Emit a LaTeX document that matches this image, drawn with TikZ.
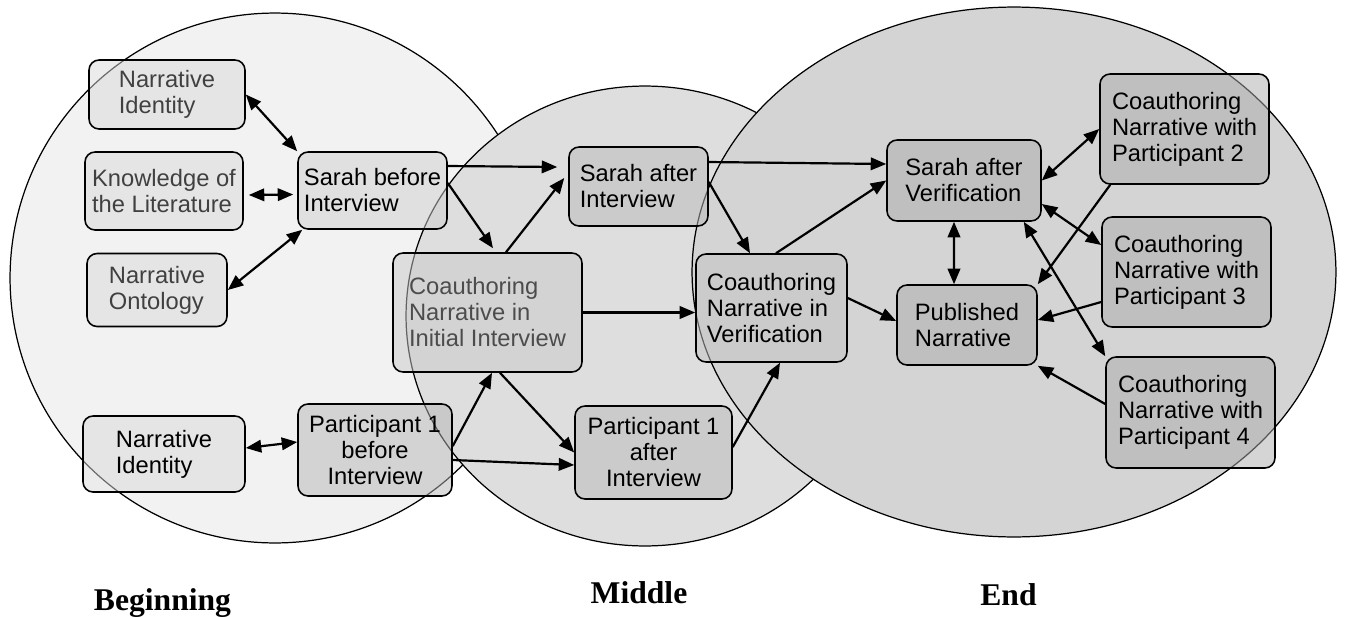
\documentclass[tikz,border=0pt]{standalone}
\usepackage{fontspec}
\setmainfont{Liberation Sans}
\newfontfamily\stagefont{Liberation Serif}
\usetikzlibrary{arrows.meta}
\begin{document}
\begin{tikzpicture}[x=0.02cm, y=-0.02cm,
        phase/.style={draw=black, line width=0.7pt},
        box/.style 2 args={draw=black, line width=0.9pt, rounded corners=0.2cm, fill opacity=0.5, text opacity=1,
            inner sep=0pt, align=left, minimum width=#1cm, minimum height=#2cm, font=\fontsize{13.5}{14.8}\selectfont},
        arr/.style={line width=1.25pt, -{Triangle[length=0.31cm, width=0.25cm]}},
        dbl/.style={line width=1.25pt, {Triangle[length=0.31cm, width=0.25cm]}-{Triangle[length=0.31cm, width=0.25cm]}},
        stage/.style={font=\stagefont\bfseries\fontsize{18}{20}\selectfont, anchor=base}]
    \useasboundingbox (0,0) rectangle (1347,616);
    \draw[phase, fill=black!5] (275,278) ellipse [x radius=5.3cm, y radius=5.3cm];
    \draw[phase, fill=black!13] (645,316) ellipse [x radius=4.78cm, y radius=4.6cm];
    \draw[phase, fill=black!17] (1014,272) ellipse [x radius=6.44cm, y radius=5.3cm];

    \node[box={3.12}{1.38}, fill=black!15, text=black!75] (ni1) at (167,94.5) {Narrative\\Identity};
    \node[box={3.16}{1.56}, fill=black!15, text=black!75] (kl) at (164,191) {Knowledge of\\the Literature};
    \node[box={2.80}{1.46}, fill=black!15, text=black!75] (no) at (157,290) {Narrative\\Ontology};
    \node[box={2.98}{1.54}, fill=black!19] (sbi) at (372.5,190.5) {Sarah before\\Interview};
    \node[box={3.24}{1.52}, fill=black!15] (ni2) at (164,454) {Narrative\\Identity};
    \node[box={3.08}{1.84}, fill=black!29, align=center] (pbi) at (375,450) {Participant 1\\before\\Interview};
    \node[box={3.78}{2.38}, fill=black!21, text=black!70] (cnii) at (487.5,312.5) {Coauthoring\\Narrative in\\Initial Interview};
    \node[box={2.78}{1.58}, fill=black!27] (sai) at (638.5,186.5) {Sarah after\\Interview};
    \node[box={3.14}{1.86}, fill=black!27, align=center] (pai) at (653.5,452.5) {Participant 1\\after\\Interview};
    \node[box={3.02}{2.16}, fill=black!23] (cnv) at (771.5,308) {Coauthoring\\Narrative in\\Verification};
    \node[box={3.08}{1.62}, fill=black!33] (sav) at (964,180.5) {Sarah after\\Verification};
    \node[box={2.80}{1.60}, fill=black!33] (pn) at (967,325) {Published\\Narrative};
    \node[box={3.38}{2.20}, fill=black!33] (cp2) at (1184.5,129) {Coauthoring\\Narrative with\\Participant 2};
    \node[box={3.38}{2.20}, fill=black!33] (cp3) at (1186.5,272) {Coauthoring\\Narrative with\\Participant 3};
    \node[box={3.38}{2.22}, fill=black!33] (cp4) at (1190.5,412.5) {Coauthoring\\Narrative with\\Participant 4};

    \draw[dbl] (ni1.east) -- (sbi.north west);
    \draw[dbl] ([xshift=0.1cm,yshift=-0.08cm]kl.east) -- ([xshift=-0.08cm,yshift=-0.08cm]sbi.west);
    \draw[dbl] (no.east) -- ([xshift=0.1cm]sbi.south west);
    \draw[dbl] ([yshift=0.12cm]ni2.east) -- ([yshift=0.16cm]pbi.west);
    \draw[arr] ([yshift=0.49cm]sbi.east) -- ([xshift=-0.22cm,yshift=0.39cm]sai.west);
    \draw[arr] ([yshift=0.15cm]sbi.east) -- ([xshift=0.11cm,yshift=0.08cm]cnii.north);
    \draw[arr] ([xshift=0.37cm]cnii.north) -- ([xshift=-0.08cm,yshift=0.17cm]sai.west);
    \draw[arr] ([yshift=0.08cm]pbi.east) -- ([xshift=0.09cm]cnii.south);
    \draw[arr] ([yshift=-0.2cm]pbi.east) -- ([yshift=-0.25cm]pai.west);
    \draw[arr] ([xshift=0.25cm]cnii.south) -- (pai.west);
    \draw[arr] (cnii.east) -- (cnii.east -| cnv.west);
    \draw[arr] ([yshift=0.09cm]sai.east) -- ([xshift=-0.43cm]cnv.north);
    \draw[arr] ([yshift=0.49cm]sai.east) -- ([yshift=0.33cm]sav.west);
    \draw[arr] ([xshift=0.09cm]cnv.north) -- (sav.west);
    \draw[arr] ([yshift=0.11cm]pai.east) -- ([xshift=0.17cm]cnv.south);
    \draw[arr] ([yshift=0.2cm]cnv.east) -- ([yshift=0.08cm]pn.west);
    \draw[dbl] ([xshift=-0.2cm]sav.south) -- ([xshift=-0.26cm]pn.north);
    \draw[dbl] (sav.east) -- (cp2.west);
    \draw[dbl] ([yshift=-0.47cm]sav.east) -- ([yshift=0.54cm]cp3.west);
    \draw[dbl] ([xshift=-0.36cm]sav.south east) -- (cp4.north west);
    \draw[arr] ([xshift=0.22cm]cp2.south west) -- (pn.north east);
    \draw[arr] ([yshift=-0.6cm]cp3.west) -- ([yshift=0.1cm]pn.east);
    \draw[arr] ([yshift=0.17cm]cp4.west) -- (pn.south east);

    \node[stage] (beg) at (162.5,610) {Beginning};
    \node[stage] (mid) at (639,603) {Middle};
    \node[stage] (fin) at (1008.5,605) {End};
\end{tikzpicture}
\end{document}
